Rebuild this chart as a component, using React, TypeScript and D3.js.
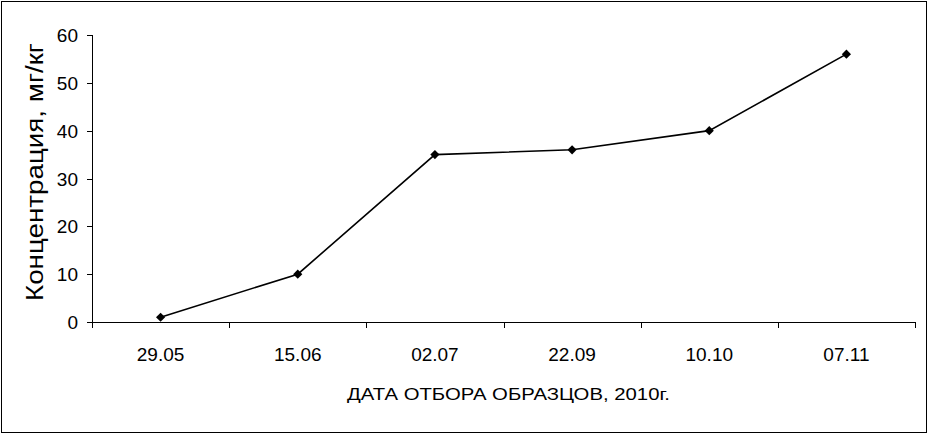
import React from "react";
import * as d3 from "d3";

const categories = ["29.05", "15.06", "02.07", "22.09", "10.10", "07.11"];
const values = [1, 10, 35, 36, 40, 56];
const yTicks = [0, 10, 20, 30, 40, 50, 60];
const yTitle = "Концентрация, мг/кг";
const xTitle = "ДАТА ОТБОРА ОБРАЗЦОВ, 2010г.";

const W = 929;
const H = 434;
const left = 92;
const right = 915;
const top = 35;
const bottom = 322;
const font = "'Liberation Sans', Arial, sans-serif";

export default function App() {
  const x = d3.scaleBand<string>().domain(categories).range([left, right]);
  const y = d3.scaleLinear().domain([0, 60]).range([bottom, top]);
  const cx = (i: number) => (x(categories[i]) as number) + x.bandwidth() / 2;
  const line = d3
    .line<number>()
    .x((_, i) => cx(i))
    .y((d) => y(d));
  const marker = d3.symbol().type(d3.symbolSquare).size(42)() as string;
  const boundaries = categories.map((c) => x(c) as number).concat([right]);

  return (
    <svg
      width={W}
      height={H}
      style={{ position: "absolute", left: 0, top: 0, background: "#fff" }}
      shapeRendering="crispEdges"
    >
      <rect x={1.5} y={1.5} width={925} height={431} fill="#fff" stroke="#000" strokeWidth={1} />
      {/* y axis */}
      <line x1={left + 0.5} x2={left + 0.5} y1={top} y2={bottom} stroke="#000" />
      {yTicks.map((t) => (
        <g key={t}>
          <line x1={left - 5} x2={left} y1={Math.round(y(t)) + 0.5} y2={Math.round(y(t)) + 0.5} stroke="#000" />
          <text
            x={left - 14}
            y={y(t) + 7}
            textAnchor="end"
            fontFamily={font}
            fontSize={19}
            fill="#000"
          >
            {t}
          </text>
        </g>
      ))}
      {/* x axis */}
      <line x1={left} x2={right} y1={bottom + 0.5} y2={bottom + 0.5} stroke="#000" />
      {boundaries.map((b, i) => (
        <line key={i} x1={Math.round(b) + 0.5} x2={Math.round(b) + 0.5} y1={bottom} y2={bottom + 6} stroke="#000" />
      ))}
      {categories.map((c, i) => (
        <text
          key={c}
          x={cx(i)}
          y={361}
          textAnchor="middle"
          fontFamily={font}
          fontSize={19}
          fill="#000"
        >
          {c}
        </text>
      ))}
      <text
        x={347}
        y={400}
        textLength={323}
        lengthAdjust="spacingAndGlyphs"
        fontFamily={font}
        fontSize={17}
        fill="#000"
      >
        {xTitle}
      </text>
      <text
        transform={`translate(43,301) rotate(-90)`}
        textLength={258}
        lengthAdjust="spacingAndGlyphs"
        fontFamily={font}
        fontSize={23}
        fill="#000"
      >
        {yTitle}
      </text>
      {/* series */}
      <path d={line(values) as string} fill="none" stroke="#000" strokeWidth={1.6} shapeRendering="auto" />
      {values.map((v, i) => (
        <path
          key={i}
          d={marker}
          transform={`translate(${cx(i)},${y(v)}) rotate(45)`}
          fill="#000"
          shapeRendering="auto"
        />
      ))}
    </svg>
  );
}
